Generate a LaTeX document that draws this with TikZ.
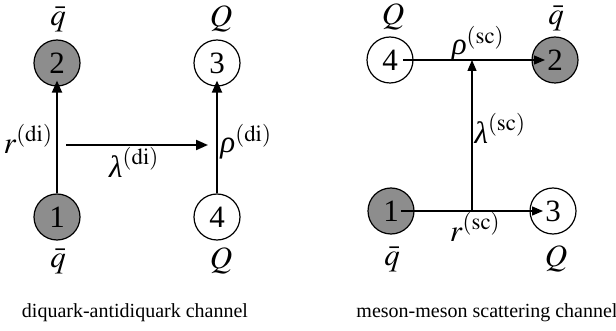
\documentclass[tikz,border=0pt]{standalone}
\usepackage{mathptmx}
\usepackage{fontspec}
\setmainfont{Liberation Serif}
\usetikzlibrary{arrows.meta}
\newcommand{\glam}{\textit{λ}}
\newcommand{\grho}{\textit{ρ}}
\begin{document}
\begin{tikzpicture}[x=1pt,y=-1pt,
  part/.style={circle,draw,line width=1.2pt,minimum size=46pt,inner sep=0pt,font=\fontsize{31}{32}\selectfont},
  dark/.style={part,fill=gray!95!black!85},
  light/.style={part,fill=white},
  lab/.style={font=\fontsize{31}{32}\selectfont,inner sep=0pt},
  captext/.style={font=\fontsize{20}{22}\selectfont,inner sep=0pt},
  thickarr/.style={line width=2pt,-{Triangle[length=12pt,width=10pt]}},
  thinarr/.style={line width=1.3pt,-{Triangle[length=11pt,width=9pt]}}]
\useasboundingbox (0,0) rectangle (616,331);
% left diagram
\node[dark] (L2) at (57,63) {2};
\node[dark] (L1) at (57,217) {1};
\node[light] (L3) at (217,63) {3};
\node[light] (L4) at (217,217) {4};
\node[lab] (lq2) at (58,19) {$\bar{q}$};
\node[lab] (lq1) at (58,261) {$\bar{q}$};
\node[lab] (lQ3) at (221,19) {$Q$};
\node[lab] (lQ4) at (221,261) {$Q$};
\draw[thickarr] (L1.north) -- ([yshift=6pt]L2.south);
\draw[thickarr] (L4.north) -- ([yshift=6pt]L3.south);
\coordinate (lA) at (66,145);
\coordinate (lB) at (208,145);
\draw[thickarr] (lA) -- (lB);
\node[lab] (lr) at (28,139) {$r^{(\mathrm{di})}$};
\node[lab] (llam) at (134,162) {$\glam^{(\mathrm{di})}$};
\node[lab] (lrho) at (246,142) {$\grho^{(\mathrm{di})}$};
\node[captext] (lcap) at (135,313) {diquark-antidiquark channel};
% right diagram
\node[light] (R4) at (390,60) {4};
\node[dark] (R2) at (555,60) {2};
\node[dark] (R1) at (391,211) {1};
\node[light] (R3) at (553,211) {3};
\node[lab] (rQ4) at (393,17) {$Q$};
\node[lab] (rq2) at (556,18) {$\bar{q}$};
\node[lab] (rq1) at (392,259) {$\bar{q}$};
\node[lab] (rQ3) at (556,259) {$Q$};
\draw[thinarr] ([xshift=13pt]R4.center) -- ([xshift=-10pt]R2.center);
\draw[thinarr] ([xshift=10pt]R1.center) -- ([xshift=-10pt]R3.center);
\coordinate (rbot) at (472,211);
\coordinate (rtop) at (472,60);
\draw[thinarr] (rbot) -- (rtop);
\node[lab] (rrho) at (478,44) {$\grho^{(\mathrm{sc})}$};
\node[lab] (rlam) at (500,128) {$\glam^{(\mathrm{sc})}$};
\node[lab] (rr) at (475,227) {$r^{(\mathrm{sc})}$};
\node[captext] (rcap) at (487,313) {meson-meson scattering channel};
\end{tikzpicture}
\end{document}
